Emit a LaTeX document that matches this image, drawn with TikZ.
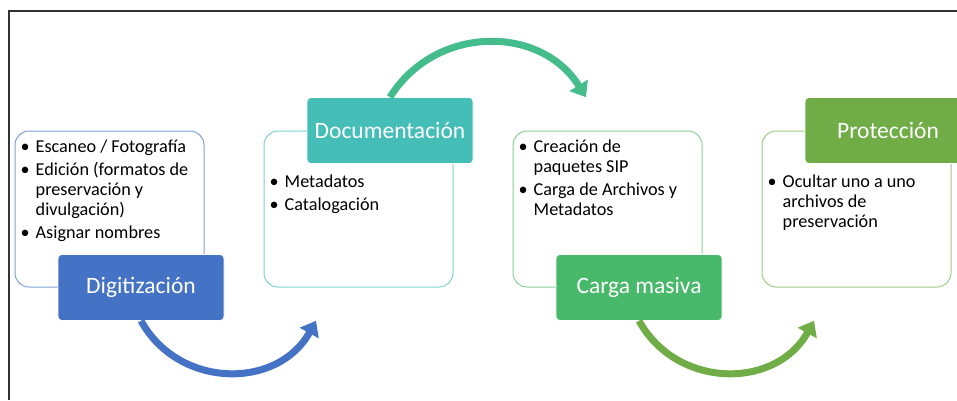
\documentclass[tikz,border=0pt]{standalone}
\usepackage{fontspec}
\setmainfont{Carlito}
\usepackage{xcolor}
\usepackage{tikz}
\usetikzlibrary{arrows.meta,positioning}

\definecolor{digblue}{HTML}{4472C4}
\definecolor{diglight}{HTML}{7F9FD8}
\definecolor{docteal}{HTML}{46BEB8}
\definecolor{doclight}{HTML}{7DD2CD}
\definecolor{arrteal}{HTML}{45BC8C}
\definecolor{cargreen}{HTML}{48B86A}
\definecolor{carlight}{HTML}{85CF9A}
\definecolor{progreen}{HTML}{70AD47}
\definecolor{prolight}{HTML}{9FCB82}

\begin{document}
\begin{tikzpicture}[
    x=1pt, y=1pt,
    node distance=59pt,
    listbox/.style={rectangle, rounded corners=14pt, draw, line width=1pt, minimum width=189pt, minimum height=156pt, inner sep=0pt},
    header/.style={rectangle, rounded corners=4pt, draw=white, line width=0.6pt, minimum width=166pt, minimum height=66pt, text=white, font=\fontsize{23.5}{26}\selectfont, inner sep=0pt},
    listtext/.style={anchor=north west, inner sep=0pt, font=\fontsize{18.2}{20}\selectfont},
    flow/.style={line width=7pt, -{Triangle[length=14pt, width=21pt]}}
]
    \clip (0,0) rectangle (957,400);
    % Frame
    \draw[line width=1.5pt, black!80] (9,0) -- (9,389) -- (957,389);

    % Boxes
    \node[listbox, draw=diglight] (digitlist) at (109.5,191) {};
    \node[listbox, draw=doclight, right=of digitlist] (documlist) {};
    \node[listbox, draw=carlight, right=of documlist] (cargalist) {};
    \node[listbox, draw=prolight, right=of cargalist] (proteclist) {};

    % Lists
    \node[listtext] (digittext) at ([shift={(6pt,-8pt)}]digitlist.north west) {%
        \begin{tabular}{@{}p{15pt}@{}l@{}}
        \textbullet & Escaneo / Fotografía\\[3pt]
        \textbullet & Edición (formatos de\\
                    & preservación y\\
                    & divulgación)\\[3pt]
        \textbullet & Asignar nombres
        \end{tabular}};
    \node[listtext] (documtext) at ([shift={(6pt,-43pt)}]documlist.north west) {%
        \begin{tabular}{@{}p{15pt}@{}l@{}}
        \textbullet & Metadatos\\[3pt]
        \textbullet & Catalogación
        \end{tabular}};
    \node[listtext] (cargatext) at ([shift={(6pt,-8pt)}]cargalist.north west) {%
        \begin{tabular}{@{}p{15pt}@{}l@{}}
        \textbullet & Creación de\\
                    & paquetes SIP\\[3pt]
        \textbullet & Carga de Archivos y\\
                    & Metadatos
        \end{tabular}};
    \node[listtext] (protectext) at ([shift={(6pt,-43pt)}]proteclist.north west) {%
        \begin{tabular}{@{}p{15pt}@{}l@{}}
        \textbullet & Ocultar uno a uno\\
                    & archivos de\\
                    & preservación
        \end{tabular}};

    % Headers
    \node[header, fill=digblue, xshift=31.5pt] (digit) at (digitlist.south) {Digitización};
    \node[header, fill=docteal, xshift=31.5pt] (docum) at (documlist.north) {Documentación};
    \node[header, fill=cargreen, xshift=31.5pt] (carga) at (cargalist.south) {Carga masiva};
    \node[header, fill=progreen, xshift=31.5pt] (protec) at (proteclist.north) {Protección};

    % Arrows
    \coordinate (digitend) at ([xshift=175pt]digit.south);
    \coordinate (documend) at ([xshift=196pt]docum.north);
    \coordinate (cargaend) at ([xshift=175pt]carga.south);
    \draw[flow, digblue] (digit.south) to[out=-61, in=-119, looseness=1.15] (digitend);
    \draw[flow, arrteal] (docum.north) to[out=58, in=122, looseness=1.12] (documend);
    \draw[flow, progreen] (carga.south) to[out=-61, in=-119, looseness=1.15] (cargaend);
\end{tikzpicture}
\end{document}
